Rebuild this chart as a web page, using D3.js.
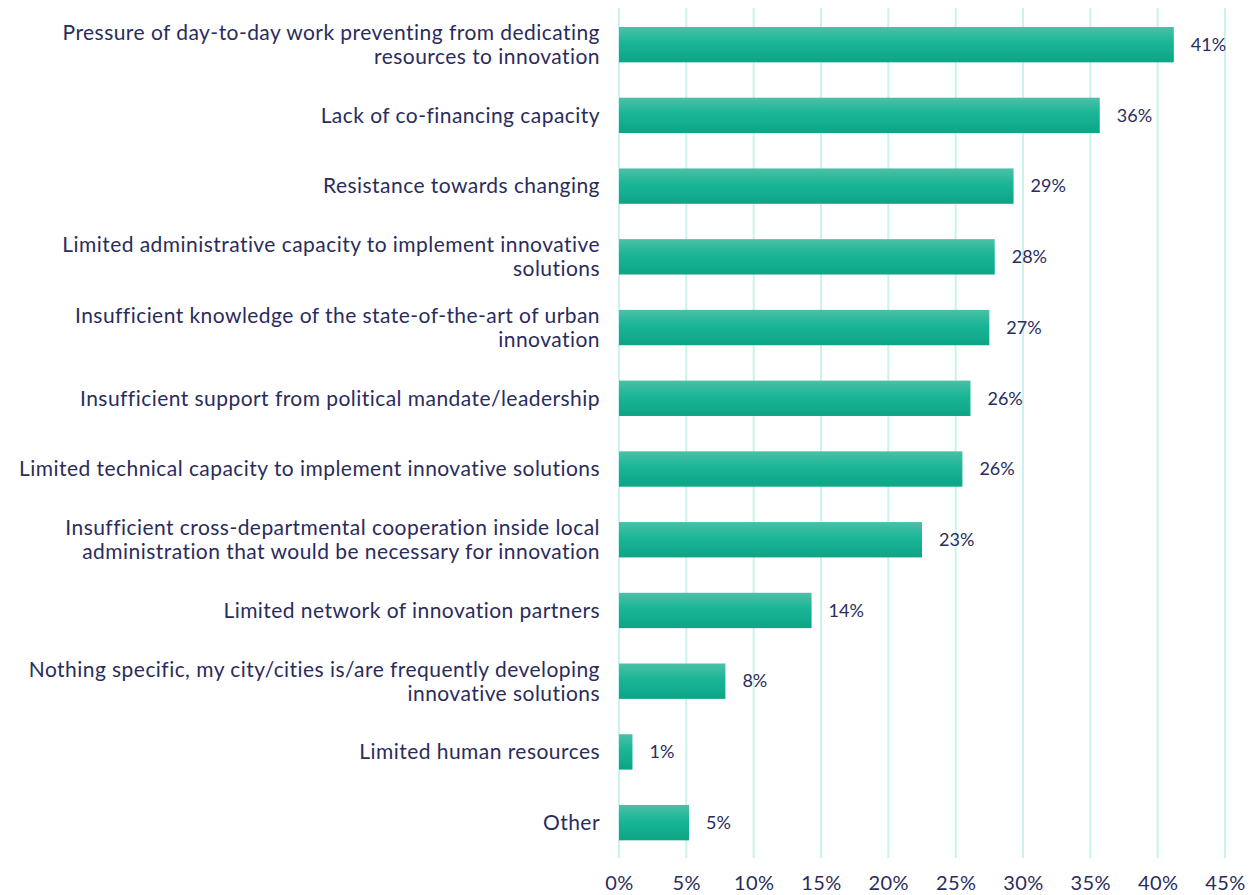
<!DOCTYPE html>
<html>
<head>
<meta charset="utf-8">
<script src="https://cdn.jsdelivr.net/npm/d3@7"></script>
<style>
  body { margin: 0; background: #fff; }
  text { font-family: Lato, "Open Sans", sans-serif; fill: #2a2c5c; }
</style>
</head>
<body>
<svg id="chart" width="1251" height="895"></svg>
<script>
// categories, each entry is the list of label lines
const categories = [
  ['Pressure of day-to-day work preventing from dedicating', 'resources to innovation'],
  ['Lack of co-financing capacity'],
  ['Resistance towards changing'],
  ['Limited administrative capacity to implement innovative', 'solutions'],
  ['Insufficient knowledge of the state-of-the-art of urban', 'innovation'],
  ['Insufficient support from political mandate/leadership'],
  ['Limited technical capacity to implement innovative solutions'],
  ['Insufficient cross-departmental cooperation inside local', 'administration that would be necessary for innovation'],
  ['Limited network of innovation partners'],
  ['Nothing specific, my city/cities is/are frequently developing', 'innovative solutions'],
  ['Limited human resources'],
  ['Other']
];
const values = [41.2, 35.7, 29.3, 27.9, 27.5, 26.1, 25.5, 22.5, 14.3, 7.9, 1.0, 5.2];
const valueLabels = ['41%', '36%', '29%', '28%', '27%', '26%', '26%', '23%', '14%', '8%', '1%', '5%'];
const xTicks = [0, 5, 10, 15, 20, 25, 30, 35, 40, 45];

const svg = d3.select('#chart');

let x = d3.scaleLinear().domain([0, 45]).range([619, 1225]);
let y = d3.scaleBand()
  .domain(d3.range(categories.length))
  .range([9.3, 858])
  .paddingInner(0.5)
  .paddingOuter(0.25);

// bar gradient
let grad = svg.append('defs').append('linearGradient')
  .attr('id', 'barGrad')
  .attr('x1', 0).attr('y1', 0).attr('x2', 0).attr('y2', 1);
grad.append('stop').attr('offset', '0%').attr('stop-color', '#4cc0a6');
grad.append('stop').attr('offset', '45%').attr('stop-color', '#19b597');
grad.append('stop').attr('offset', '100%').attr('stop-color', '#0ea486');

// grid lines
svg.append('g')
  .selectAll('line')
  .data(xTicks)
  .enter()
  .append('line')
  .attr('x1', function(d) { return x(d); })
  .attr('x2', function(d) { return x(d); })
  .attr('y1', 8)
  .attr('y2', 858)
  .style('stroke', '#c9f3ec')
  .style('stroke-width', 2);

// x axis labels
let xAxis = d3.axisBottom(x)
  .tickValues(xTicks)
  .tickSize(0)
  .tickPadding(0)
  .tickFormat(function(d) { return d + '%'; });
let gx = svg.append('g')
  .attr('transform', 'translate(0,876)')
  .call(xAxis);
gx.select('.domain').remove();
gx.selectAll('text')
  .style('font-size', '20px')
  .style('letter-spacing', '0.4px')
  .style('fill', '#2a2c5c')
  .style('font-family', 'Lato, "Open Sans", sans-serif');

// bars
svg.append('g')
  .selectAll('rect')
  .data(values)
  .enter()
  .append('rect')
  .attr('x', x(0))
  .attr('y', function(d, i) { return y(i); })
  .attr('width', function(d) { return x(d) - x(0); })
  .attr('height', y.bandwidth())
  .style('fill', 'url(#barGrad)');

// value labels
svg.append('g')
  .selectAll('text')
  .data(values)
  .enter()
  .append('text')
  .attr('x', function(d) { return x(d) + 17; })
  .attr('y', function(d, i) { return y(i) + y.bandwidth() / 2; })
  .attr('dy', '0.35em')
  .style('font-size', '18px')
  .text(function(d, i) { return valueLabels[i]; });

// category labels
let lineH = 24;
let cats = svg.append('g')
  .selectAll('text')
  .data(categories)
  .enter()
  .append('text')
  .attr('text-anchor', 'end')
  .style('font-size', '21px')
  .style('letter-spacing', '0.45px');
cats.each(function(lines, i) {
  let cy = y(i) + y.bandwidth() / 2;
  let top = cy - (lines.length - 1) * lineH / 2;
  d3.select(this).selectAll('tspan')
    .data(lines)
    .enter()
    .append('tspan')
    .attr('x', 600)
    .attr('y', function(d, j) { return top + j * lineH; })
    .attr('dy', '0.35em')
    .text(function(d) { return d; });
});
</script>
</body>
</html>
